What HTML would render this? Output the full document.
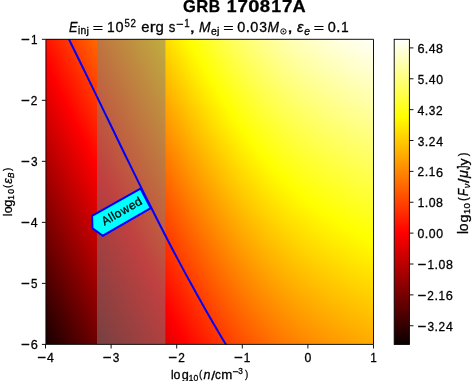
<!DOCTYPE html>
<html><head><meta charset="utf-8"><style>
html,body{margin:0;padding:0;background:#fff;width:473px;height:381px;overflow:hidden}
#c{position:relative;width:473px;height:381px;background:#fff;overflow:hidden}
svg{display:block;position:absolute;left:0;top:0;font-family:"Liberation Sans", sans-serif;will-change:transform}
text{stroke:#000;stroke-width:0.3px}
.s{position:absolute;top:39.3px;height:305.1px;width:1px;background-image:linear-gradient(to top,rgb(11,0,0) 600px,#f00 897.177px,#ff0 1207.275px,#fff 1414.007px);background-size:1px 2014.007px;background-repeat:no-repeat}
</style></head><body><div id="c"><i class="s" style="left:46px;background-position:0 -1092.543px"></i><i class="s" style="left:47px;background-position:0 -1090.474px"></i><i class="s" style="left:48px;background-position:0 -1088.405px"></i><i class="s" style="left:49px;background-position:0 -1086.336px"></i><i class="s" style="left:50px;background-position:0 -1084.267px"></i><i class="s" style="left:51px;background-position:0 -1082.199px"></i><i class="s" style="left:52px;background-position:0 -1080.131px"></i><i class="s" style="left:53px;background-position:0 -1078.063px"></i><i class="s" style="left:54px;background-position:0 -1075.995px"></i><i class="s" style="left:55px;background-position:0 -1073.927px"></i><i class="s" style="left:56px;background-position:0 -1071.86px"></i><i class="s" style="left:57px;background-position:0 -1069.792px"></i><i class="s" style="left:58px;background-position:0 -1067.725px"></i><i class="s" style="left:59px;background-position:0 -1065.658px"></i><i class="s" style="left:60px;background-position:0 -1063.591px"></i><i class="s" style="left:61px;background-position:0 -1061.525px"></i><i class="s" style="left:62px;background-position:0 -1059.459px"></i><i class="s" style="left:63px;background-position:0 -1057.393px"></i><i class="s" style="left:64px;background-position:0 -1055.327px"></i><i class="s" style="left:65px;background-position:0 -1053.261px"></i><i class="s" style="left:66px;background-position:0 -1051.196px"></i><i class="s" style="left:67px;background-position:0 -1049.13px"></i><i class="s" style="left:68px;background-position:0 -1047.065px"></i><i class="s" style="left:69px;background-position:0 -1045.001px"></i><i class="s" style="left:70px;background-position:0 -1042.936px"></i><i class="s" style="left:71px;background-position:0 -1040.872px"></i><i class="s" style="left:72px;background-position:0 -1038.808px"></i><i class="s" style="left:73px;background-position:0 -1036.745px"></i><i class="s" style="left:74px;background-position:0 -1034.682px"></i><i class="s" style="left:75px;background-position:0 -1032.619px"></i><i class="s" style="left:76px;background-position:0 -1030.556px"></i><i class="s" style="left:77px;background-position:0 -1028.494px"></i><i class="s" style="left:78px;background-position:0 -1026.432px"></i><i class="s" style="left:79px;background-position:0 -1024.37px"></i><i class="s" style="left:80px;background-position:0 -1022.309px"></i><i class="s" style="left:81px;background-position:0 -1020.248px"></i><i class="s" style="left:82px;background-position:0 -1018.187px"></i><i class="s" style="left:83px;background-position:0 -1016.127px"></i><i class="s" style="left:84px;background-position:0 -1014.067px"></i><i class="s" style="left:85px;background-position:0 -1012.008px"></i><i class="s" style="left:86px;background-position:0 -1009.949px"></i><i class="s" style="left:87px;background-position:0 -1007.89px"></i><i class="s" style="left:88px;background-position:0 -1005.832px"></i><i class="s" style="left:89px;background-position:0 -1003.774px"></i><i class="s" style="left:90px;background-position:0 -1001.717px"></i><i class="s" style="left:91px;background-position:0 -999.66px"></i><i class="s" style="left:92px;background-position:0 -997.604px"></i><i class="s" style="left:93px;background-position:0 -995.548px"></i><i class="s" style="left:94px;background-position:0 -993.492px"></i><i class="s" style="left:95px;background-position:0 -991.438px"></i><i class="s" style="left:96px;background-position:0 -989.383px"></i><i class="s" style="left:97px;background-position:0 -987.33px"></i><i class="s" style="left:98px;background-position:0 -985.276px"></i><i class="s" style="left:99px;background-position:0 -983.224px"></i><i class="s" style="left:100px;background-position:0 -981.172px"></i><i class="s" style="left:101px;background-position:0 -979.12px"></i><i class="s" style="left:102px;background-position:0 -977.069px"></i><i class="s" style="left:103px;background-position:0 -975.019px"></i><i class="s" style="left:104px;background-position:0 -972.97px"></i><i class="s" style="left:105px;background-position:0 -970.921px"></i><i class="s" style="left:106px;background-position:0 -968.873px"></i><i class="s" style="left:107px;background-position:0 -966.825px"></i><i class="s" style="left:108px;background-position:0 -964.779px"></i><i class="s" style="left:109px;background-position:0 -962.733px"></i><i class="s" style="left:110px;background-position:0 -960.688px"></i><i class="s" style="left:111px;background-position:0 -958.643px"></i><i class="s" style="left:112px;background-position:0 -956.6px"></i><i class="s" style="left:113px;background-position:0 -954.557px"></i><i class="s" style="left:114px;background-position:0 -952.515px"></i><i class="s" style="left:115px;background-position:0 -950.474px"></i><i class="s" style="left:116px;background-position:0 -948.434px"></i><i class="s" style="left:117px;background-position:0 -946.395px"></i><i class="s" style="left:118px;background-position:0 -944.356px"></i><i class="s" style="left:119px;background-position:0 -942.319px"></i><i class="s" style="left:120px;background-position:0 -940.283px"></i><i class="s" style="left:121px;background-position:0 -938.248px"></i><i class="s" style="left:122px;background-position:0 -936.213px"></i><i class="s" style="left:123px;background-position:0 -934.18px"></i><i class="s" style="left:124px;background-position:0 -932.148px"></i><i class="s" style="left:125px;background-position:0 -930.118px"></i><i class="s" style="left:126px;background-position:0 -928.088px"></i><i class="s" style="left:127px;background-position:0 -926.059px"></i><i class="s" style="left:128px;background-position:0 -924.032px"></i><i class="s" style="left:129px;background-position:0 -922.006px"></i><i class="s" style="left:130px;background-position:0 -919.981px"></i><i class="s" style="left:131px;background-position:0 -917.958px"></i><i class="s" style="left:132px;background-position:0 -915.936px"></i><i class="s" style="left:133px;background-position:0 -913.915px"></i><i class="s" style="left:134px;background-position:0 -911.896px"></i><i class="s" style="left:135px;background-position:0 -909.878px"></i><i class="s" style="left:136px;background-position:0 -907.862px"></i><i class="s" style="left:137px;background-position:0 -905.847px"></i><i class="s" style="left:138px;background-position:0 -903.834px"></i><i class="s" style="left:139px;background-position:0 -901.823px"></i><i class="s" style="left:140px;background-position:0 -899.813px"></i><i class="s" style="left:141px;background-position:0 -897.805px"></i><i class="s" style="left:142px;background-position:0 -895.799px"></i><i class="s" style="left:143px;background-position:0 -893.794px"></i><i class="s" style="left:144px;background-position:0 -891.791px"></i><i class="s" style="left:145px;background-position:0 -889.791px"></i><i class="s" style="left:146px;background-position:0 -887.792px"></i><i class="s" style="left:147px;background-position:0 -885.795px"></i><i class="s" style="left:148px;background-position:0 -883.8px"></i><i class="s" style="left:149px;background-position:0 -881.807px"></i><i class="s" style="left:150px;background-position:0 -879.816px"></i><i class="s" style="left:151px;background-position:0 -877.828px"></i><i class="s" style="left:152px;background-position:0 -875.842px"></i><i class="s" style="left:153px;background-position:0 -873.858px"></i><i class="s" style="left:154px;background-position:0 -871.876px"></i><i class="s" style="left:155px;background-position:0 -869.897px"></i><i class="s" style="left:156px;background-position:0 -867.92px"></i><i class="s" style="left:157px;background-position:0 -865.946px"></i><i class="s" style="left:158px;background-position:0 -863.975px"></i><i class="s" style="left:159px;background-position:0 -862.006px"></i><i class="s" style="left:160px;background-position:0 -860.04px"></i><i class="s" style="left:161px;background-position:0 -858.076px"></i><i class="s" style="left:162px;background-position:0 -856.116px"></i><i class="s" style="left:163px;background-position:0 -854.158px"></i><i class="s" style="left:164px;background-position:0 -852.203px"></i><i class="s" style="left:165px;background-position:0 -850.252px"></i><i class="s" style="left:166px;background-position:0 -848.303px"></i><i class="s" style="left:167px;background-position:0 -846.358px"></i><i class="s" style="left:168px;background-position:0 -844.416px"></i><i class="s" style="left:169px;background-position:0 -842.477px"></i><i class="s" style="left:170px;background-position:0 -840.542px"></i><i class="s" style="left:171px;background-position:0 -838.61px"></i><i class="s" style="left:172px;background-position:0 -836.682px"></i><i class="s" style="left:173px;background-position:0 -834.757px"></i><i class="s" style="left:174px;background-position:0 -832.837px"></i><i class="s" style="left:175px;background-position:0 -830.92px"></i><i class="s" style="left:176px;background-position:0 -829.007px"></i><i class="s" style="left:177px;background-position:0 -827.098px"></i><i class="s" style="left:178px;background-position:0 -825.193px"></i><i class="s" style="left:179px;background-position:0 -823.292px"></i><i class="s" style="left:180px;background-position:0 -821.395px"></i><i class="s" style="left:181px;background-position:0 -819.503px"></i><i class="s" style="left:182px;background-position:0 -817.616px"></i><i class="s" style="left:183px;background-position:0 -815.732px"></i><i class="s" style="left:184px;background-position:0 -813.854px"></i><i class="s" style="left:185px;background-position:0 -811.98px"></i><i class="s" style="left:186px;background-position:0 -810.111px"></i><i class="s" style="left:187px;background-position:0 -808.247px"></i><i class="s" style="left:188px;background-position:0 -806.388px"></i><i class="s" style="left:189px;background-position:0 -804.534px"></i><i class="s" style="left:190px;background-position:0 -802.686px"></i><i class="s" style="left:191px;background-position:0 -800.842px"></i><i class="s" style="left:192px;background-position:0 -799.005px"></i><i class="s" style="left:193px;background-position:0 -797.172px"></i><i class="s" style="left:194px;background-position:0 -795.346px"></i><i class="s" style="left:195px;background-position:0 -793.525px"></i><i class="s" style="left:196px;background-position:0 -791.71px"></i><i class="s" style="left:197px;background-position:0 -789.901px"></i><i class="s" style="left:198px;background-position:0 -788.098px"></i><i class="s" style="left:199px;background-position:0 -786.301px"></i><i class="s" style="left:200px;background-position:0 -784.511px"></i><i class="s" style="left:201px;background-position:0 -782.727px"></i><i class="s" style="left:202px;background-position:0 -780.949px"></i><i class="s" style="left:203px;background-position:0 -779.179px"></i><i class="s" style="left:204px;background-position:0 -777.415px"></i><i class="s" style="left:205px;background-position:0 -775.657px"></i><i class="s" style="left:206px;background-position:0 -773.907px"></i><i class="s" style="left:207px;background-position:0 -772.164px"></i><i class="s" style="left:208px;background-position:0 -770.429px"></i><i class="s" style="left:209px;background-position:0 -768.7px"></i><i class="s" style="left:210px;background-position:0 -766.979px"></i><i class="s" style="left:211px;background-position:0 -765.266px"></i><i class="s" style="left:212px;background-position:0 -763.56px"></i><i class="s" style="left:213px;background-position:0 -761.862px"></i><i class="s" style="left:214px;background-position:0 -760.172px"></i><i class="s" style="left:215px;background-position:0 -758.49px"></i><i class="s" style="left:216px;background-position:0 -756.816px"></i><i class="s" style="left:217px;background-position:0 -755.151px"></i><i class="s" style="left:218px;background-position:0 -753.494px"></i><i class="s" style="left:219px;background-position:0 -751.845px"></i><i class="s" style="left:220px;background-position:0 -750.205px"></i><i class="s" style="left:221px;background-position:0 -748.573px"></i><i class="s" style="left:222px;background-position:0 -746.95px"></i><i class="s" style="left:223px;background-position:0 -745.337px"></i><i class="s" style="left:224px;background-position:0 -743.732px"></i><i class="s" style="left:225px;background-position:0 -742.136px"></i><i class="s" style="left:226px;background-position:0 -740.55px"></i><i class="s" style="left:227px;background-position:0 -738.973px"></i><i class="s" style="left:228px;background-position:0 -737.405px"></i><i class="s" style="left:229px;background-position:0 -735.847px"></i><i class="s" style="left:230px;background-position:0 -734.298px"></i><i class="s" style="left:231px;background-position:0 -732.76px"></i><i class="s" style="left:232px;background-position:0 -731.23px"></i><i class="s" style="left:233px;background-position:0 -729.711px"></i><i class="s" style="left:234px;background-position:0 -728.202px"></i><i class="s" style="left:235px;background-position:0 -726.703px"></i><i class="s" style="left:236px;background-position:0 -725.214px"></i><i class="s" style="left:237px;background-position:0 -723.735px"></i><i class="s" style="left:238px;background-position:0 -722.266px"></i><i class="s" style="left:239px;background-position:0 -720.807px"></i><i class="s" style="left:240px;background-position:0 -719.36px"></i><i class="s" style="left:241px;background-position:0 -717.922px"></i><i class="s" style="left:242px;background-position:0 -716.495px"></i><i class="s" style="left:243px;background-position:0 -715.079px"></i><i class="s" style="left:244px;background-position:0 -713.673px"></i><i class="s" style="left:245px;background-position:0 -712.278px"></i><i class="s" style="left:246px;background-position:0 -710.893px"></i><i class="s" style="left:247px;background-position:0 -709.52px"></i><i class="s" style="left:248px;background-position:0 -708.157px"></i><i class="s" style="left:249px;background-position:0 -706.805px"></i><i class="s" style="left:250px;background-position:0 -705.463px"></i><i class="s" style="left:251px;background-position:0 -704.133px"></i><i class="s" style="left:252px;background-position:0 -702.814px"></i><i class="s" style="left:253px;background-position:0 -701.505px"></i><i class="s" style="left:254px;background-position:0 -700.208px"></i><i class="s" style="left:255px;background-position:0 -698.921px"></i><i class="s" style="left:256px;background-position:0 -697.646px"></i><i class="s" style="left:257px;background-position:0 -696.381px"></i><i class="s" style="left:258px;background-position:0 -695.128px"></i><i class="s" style="left:259px;background-position:0 -693.885px"></i><i class="s" style="left:260px;background-position:0 -692.653px"></i><i class="s" style="left:261px;background-position:0 -691.432px"></i><i class="s" style="left:262px;background-position:0 -690.222px"></i><i class="s" style="left:263px;background-position:0 -689.023px"></i><i class="s" style="left:264px;background-position:0 -687.835px"></i><i class="s" style="left:265px;background-position:0 -686.658px"></i><i class="s" style="left:266px;background-position:0 -685.492px"></i><i class="s" style="left:267px;background-position:0 -684.336px"></i><i class="s" style="left:268px;background-position:0 -683.191px"></i><i class="s" style="left:269px;background-position:0 -682.056px"></i><i class="s" style="left:270px;background-position:0 -680.933px"></i><i class="s" style="left:271px;background-position:0 -679.82px"></i><i class="s" style="left:272px;background-position:0 -678.717px"></i><i class="s" style="left:273px;background-position:0 -677.625px"></i><i class="s" style="left:274px;background-position:0 -676.543px"></i><i class="s" style="left:275px;background-position:0 -675.472px"></i><i class="s" style="left:276px;background-position:0 -674.41px"></i><i class="s" style="left:277px;background-position:0 -673.36px"></i><i class="s" style="left:278px;background-position:0 -672.319px"></i><i class="s" style="left:279px;background-position:0 -671.288px"></i><i class="s" style="left:280px;background-position:0 -670.267px"></i><i class="s" style="left:281px;background-position:0 -669.256px"></i><i class="s" style="left:282px;background-position:0 -668.255px"></i><i class="s" style="left:283px;background-position:0 -667.263px"></i><i class="s" style="left:284px;background-position:0 -666.281px"></i><i class="s" style="left:285px;background-position:0 -665.309px"></i><i class="s" style="left:286px;background-position:0 -664.346px"></i><i class="s" style="left:287px;background-position:0 -663.392px"></i><i class="s" style="left:288px;background-position:0 -662.448px"></i><i class="s" style="left:289px;background-position:0 -661.513px"></i><i class="s" style="left:290px;background-position:0 -660.586px"></i><i class="s" style="left:291px;background-position:0 -659.669px"></i><i class="s" style="left:292px;background-position:0 -658.76px"></i><i class="s" style="left:293px;background-position:0 -657.861px"></i><i class="s" style="left:294px;background-position:0 -656.969px"></i><i class="s" style="left:295px;background-position:0 -656.087px"></i><i class="s" style="left:296px;background-position:0 -655.212px"></i><i class="s" style="left:297px;background-position:0 -654.346px"></i><i class="s" style="left:298px;background-position:0 -653.488px"></i><i class="s" style="left:299px;background-position:0 -652.638px"></i><i class="s" style="left:300px;background-position:0 -651.796px"></i><i class="s" style="left:301px;background-position:0 -650.962px"></i><i class="s" style="left:302px;background-position:0 -650.135px"></i><i class="s" style="left:303px;background-position:0 -649.316px"></i><i class="s" style="left:304px;background-position:0 -648.505px"></i><i class="s" style="left:305px;background-position:0 -647.701px"></i><i class="s" style="left:306px;background-position:0 -646.904px"></i><i class="s" style="left:307px;background-position:0 -646.114px"></i><i class="s" style="left:308px;background-position:0 -645.331px"></i><i class="s" style="left:309px;background-position:0 -644.555px"></i><i class="s" style="left:310px;background-position:0 -643.786px"></i><i class="s" style="left:311px;background-position:0 -643.024px"></i><i class="s" style="left:312px;background-position:0 -642.268px"></i><i class="s" style="left:313px;background-position:0 -641.518px"></i><i class="s" style="left:314px;background-position:0 -640.775px"></i><i class="s" style="left:315px;background-position:0 -640.038px"></i><i class="s" style="left:316px;background-position:0 -639.308px"></i><i class="s" style="left:317px;background-position:0 -638.583px"></i><i class="s" style="left:318px;background-position:0 -637.864px"></i><i class="s" style="left:319px;background-position:0 -637.151px"></i><i class="s" style="left:320px;background-position:0 -636.443px"></i><i class="s" style="left:321px;background-position:0 -635.741px"></i><i class="s" style="left:322px;background-position:0 -635.045px"></i><i class="s" style="left:323px;background-position:0 -634.354px"></i><i class="s" style="left:324px;background-position:0 -633.668px"></i><i class="s" style="left:325px;background-position:0 -632.987px"></i><i class="s" style="left:326px;background-position:0 -632.311px"></i><i class="s" style="left:327px;background-position:0 -631.64px"></i><i class="s" style="left:328px;background-position:0 -630.974px"></i><i class="s" style="left:329px;background-position:0 -630.313px"></i><i class="s" style="left:330px;background-position:0 -629.657px"></i><i class="s" style="left:331px;background-position:0 -629.005px"></i><i class="s" style="left:332px;background-position:0 -628.357px"></i><i class="s" style="left:333px;background-position:0 -627.714px"></i><i class="s" style="left:334px;background-position:0 -627.075px"></i><i class="s" style="left:335px;background-position:0 -626.44px"></i><i class="s" style="left:336px;background-position:0 -625.81px"></i><i class="s" style="left:337px;background-position:0 -625.183px"></i><i class="s" style="left:338px;background-position:0 -624.56px"></i><i class="s" style="left:339px;background-position:0 -623.941px"></i><i class="s" style="left:340px;background-position:0 -623.326px"></i><i class="s" style="left:341px;background-position:0 -622.715px"></i><i class="s" style="left:342px;background-position:0 -622.107px"></i><i class="s" style="left:343px;background-position:0 -621.502px"></i><i class="s" style="left:344px;background-position:0 -620.901px"></i><i class="s" style="left:345px;background-position:0 -620.304px"></i><i class="s" style="left:346px;background-position:0 -619.71px"></i><i class="s" style="left:347px;background-position:0 -619.118px"></i><i class="s" style="left:348px;background-position:0 -618.53px"></i><i class="s" style="left:349px;background-position:0 -617.945px"></i><i class="s" style="left:350px;background-position:0 -617.364px"></i><i class="s" style="left:351px;background-position:0 -616.785px"></i><i class="s" style="left:352px;background-position:0 -616.208px"></i><i class="s" style="left:353px;background-position:0 -615.635px"></i><i class="s" style="left:354px;background-position:0 -615.064px"></i><i class="s" style="left:355px;background-position:0 -614.496px"></i><i class="s" style="left:356px;background-position:0 -613.931px"></i><i class="s" style="left:357px;background-position:0 -613.368px"></i><i class="s" style="left:358px;background-position:0 -612.808px"></i><i class="s" style="left:359px;background-position:0 -612.25px"></i><i class="s" style="left:360px;background-position:0 -611.694px"></i><i class="s" style="left:361px;background-position:0 -611.141px"></i><i class="s" style="left:362px;background-position:0 -610.589px"></i><i class="s" style="left:363px;background-position:0 -610.041px"></i><i class="s" style="left:364px;background-position:0 -609.494px"></i><i class="s" style="left:365px;background-position:0 -608.949px"></i><i class="s" style="left:366px;background-position:0 -608.406px"></i><i class="s" style="left:367px;background-position:0 -607.866px"></i><i class="s" style="left:368px;background-position:0 -607.327px"></i><i class="s" style="left:369px;background-position:0 -606.79px"></i><i class="s" style="left:370px;background-position:0 -606.255px"></i><i class="s" style="left:371px;background-position:0 -605.722px"></i><i class="s" style="left:372px;background-position:0 -605.191px"></i>
<svg width="473" height="381" viewBox="0 0 473 381">
<defs><linearGradient id="gc" x1="0" y1="1" x2="0" y2="0"><stop offset="0" stop-color="rgb(11,0,0)"/><stop offset="0.365079" stop-color="rgb(255,0,0)"/><stop offset="0.746032" stop-color="rgb(255,255,0)"/><stop offset="1" stop-color="rgb(255,255,255)"/></linearGradient>
<clipPath id="ax"><rect x="45.5" y="39.3" width="328" height="305.1"/></clipPath></defs>
<g>
<g clip-path="url(#ax)">
<rect x="97.0" y="39.3" width="68.4" height="305.1" fill="rgb(128,128,128)" fill-opacity="0.5"/>
<polyline points="67.41,36.30 71.36,44.28 75.30,52.25 79.22,60.23 83.12,68.21 87.01,76.18 90.88,84.16 94.75,92.14 98.61,100.12 102.47,108.09 106.33,116.07 110.18,124.05 114.04,132.02 117.90,140.00 121.77,147.98 125.65,155.95 129.54,163.93 133.45,171.91 137.37,179.88 141.31,187.86 145.27,195.84 149.26,203.82 153.27,211.79 157.31,219.77 161.38,227.75 165.48,235.72 169.62,243.70 173.79,251.68 178.01,259.65 182.27,267.63 186.57,275.61 190.91,283.58 195.31,291.56 199.76,299.54 204.26,307.52 208.82,315.49 213.44,323.47 218.11,331.45 222.85,339.42 227.66,347.40" fill="none" stroke="#0000ff" stroke-width="2.0"/>
<polygon points="92.02,215.77 140.49,188.58 150.67,208.01 102.86,235.71 92.48,228.27" fill="#00ffff" stroke="#0000ff" stroke-width="2.0"/>
<g transform="translate(121.35,211.19) rotate(-30.0) scale(0.976) translate(-22.386,4.254)"><text transform="matrix(0.955,0,0,1.004,0.068,0)" font-size="12.312">A</text><text transform="matrix(0.969,0,0,0.994,8.279,0)" font-size="12.312">l</text><text transform="matrix(0.969,0,0,0.994,11.521,0)" font-size="12.312">l</text><text transform="matrix(1.008,0,0,0.993,14.591,0.046)" font-size="12.312">o</text><text transform="matrix(0.958,0,0,0.981,22.115,0)" font-size="12.312">w</text><text transform="matrix(1.024,0,0,0.993,31.261,0.046)" font-size="12.312">e</text><text transform="matrix(1.03,0,0,0.999,38.443,0.045)" font-size="12.312">d</text></g>
</g>
<path d="M45.9 39.3H373.5V344.4H45.9Z" fill="none" stroke="#000" stroke-width="0.93"/>
<line x1="45.5" y1="344.4" x2="45.5" y2="348.48" stroke="#000" stroke-width="0.93"/>
<text transform="matrix(1.221,0,0,1.104,37.393,362.11)" font-size="12.312">−</text><text transform="matrix(0.999,0,0,1.004,46.964,361.9)" font-size="12.312">4</text>
<line x1="111.1" y1="344.4" x2="111.1" y2="348.48" stroke="#000" stroke-width="0.93"/>
<text transform="matrix(1.221,0,0,1.104,102.993,362.11)" font-size="12.312">−</text><text transform="matrix(0.96,0,0,1.013,112.716,361.944)" font-size="12.312">3</text>
<line x1="176.7" y1="344.4" x2="176.7" y2="348.48" stroke="#000" stroke-width="0.93"/>
<text transform="matrix(1.221,0,0,1.104,168.593,362.11)" font-size="12.312">−</text><text transform="matrix(0.963,0,0,1.008,178.135,361.9)" font-size="12.312">2</text>
<line x1="242.3" y1="344.4" x2="242.3" y2="348.48" stroke="#000" stroke-width="0.93"/>
<text transform="matrix(1.221,0,0,1.104,234.193,362.11)" font-size="12.312">−</text><text transform="matrix(0.954,0,0,1.004,243.864,361.9)" font-size="12.312">1</text>
<line x1="307.9" y1="344.4" x2="307.9" y2="348.48" stroke="#000" stroke-width="0.93"/>
<text transform="matrix(0.999,0,0,1.013,304.476,361.944)" font-size="12.312">0</text>
<line x1="373.5" y1="344.4" x2="373.5" y2="348.48" stroke="#000" stroke-width="0.93"/>
<text transform="matrix(0.954,0,0,1.004,370.175,361.9)" font-size="12.312">1</text>
<line x1="41.9" y1="344.4" x2="45.9" y2="344.4" stroke="#000" stroke-width="0.93"/>
<text transform="matrix(1.221,0,0,1.104,21.232,349.11)" font-size="12.312">−</text><text transform="matrix(1.034,0,0,1.013,30.683,348.944)" font-size="12.312">6</text>
<line x1="41.9" y1="283.38" x2="45.9" y2="283.38" stroke="#000" stroke-width="0.93"/>
<text transform="matrix(1.221,0,0,1.104,21.232,288.09)" font-size="12.312">−</text><text transform="matrix(0.943,0,0,1.01,30.951,287.924)" font-size="12.312">5</text>
<line x1="41.9" y1="222.36" x2="45.9" y2="222.36" stroke="#000" stroke-width="0.93"/>
<text transform="matrix(1.221,0,0,1.104,21.232,227.07)" font-size="12.312">−</text><text transform="matrix(0.999,0,0,1.004,30.803,226.86)" font-size="12.312">4</text>
<line x1="41.9" y1="161.34" x2="45.9" y2="161.34" stroke="#000" stroke-width="0.93"/>
<text transform="matrix(1.221,0,0,1.104,21.232,166.05)" font-size="12.312">−</text><text transform="matrix(0.96,0,0,1.013,30.954,165.884)" font-size="12.312">3</text>
<line x1="41.9" y1="100.32" x2="45.9" y2="100.32" stroke="#000" stroke-width="0.93"/>
<text transform="matrix(1.221,0,0,1.104,21.232,105.03)" font-size="12.312">−</text><text transform="matrix(0.963,0,0,1.008,30.774,104.82)" font-size="12.312">2</text>
<line x1="41.9" y1="39.3" x2="45.9" y2="39.3" stroke="#000" stroke-width="0.93"/>
<text transform="matrix(1.221,0,0,1.104,21.232,44.01)" font-size="12.312">−</text><text transform="matrix(0.954,0,0,1.004,30.902,43.8)" font-size="12.312">1</text>
<rect x="394.2" y="39.3" width="15.2" height="305.1" fill="url(#gc)"/>
<rect x="394.2" y="39.3" width="15.2" height="305.1" fill="none" stroke="#000" stroke-width="0.93"/>
<line x1="409.4" y1="47.9" x2="413.48" y2="47.9" stroke="#000" stroke-width="0.93"/>
<text transform="matrix(1.034,0,0,1.013,417.468,53.044)" font-size="12.312">6</text><text transform="matrix(1.026,0,0,1.099,424.82,53)" font-size="12.312">.</text><text transform="matrix(0.999,0,0,1.004,428.722,53)" font-size="12.312">4</text><text transform="matrix(1.01,0,0,1.013,436.111,53.044)" font-size="12.312">8</text>
<line x1="409.4" y1="78.772" x2="413.48" y2="78.772" stroke="#000" stroke-width="0.93"/>
<text transform="matrix(0.943,0,0,1.01,417.735,83.916)" font-size="12.312">5</text><text transform="matrix(1.026,0,0,1.099,424.82,83.872)" font-size="12.312">.</text><text transform="matrix(0.999,0,0,1.004,428.722,83.872)" font-size="12.312">4</text><text transform="matrix(0.999,0,0,1.013,436.148,83.915)" font-size="12.312">0</text>
<line x1="409.4" y1="109.644" x2="413.48" y2="109.644" stroke="#000" stroke-width="0.93"/>
<text transform="matrix(0.999,0,0,1.004,417.587,114.744)" font-size="12.312">4</text><text transform="matrix(1.026,0,0,1.099,424.82,114.744)" font-size="12.312">.</text><text transform="matrix(0.96,0,0,1.013,428.873,114.787)" font-size="12.312">3</text><text transform="matrix(0.963,0,0,1.008,436.118,114.744)" font-size="12.312">2</text>
<line x1="409.4" y1="140.515" x2="413.48" y2="140.515" stroke="#000" stroke-width="0.93"/>
<text transform="matrix(0.96,0,0,1.013,417.739,145.659)" font-size="12.312">3</text><text transform="matrix(1.026,0,0,1.099,424.82,145.615)" font-size="12.312">.</text><text transform="matrix(0.963,0,0,1.008,428.693,145.615)" font-size="12.312">2</text><text transform="matrix(0.999,0,0,1.004,436.147,145.615)" font-size="12.312">4</text>
<line x1="409.4" y1="171.387" x2="413.48" y2="171.387" stroke="#000" stroke-width="0.93"/>
<text transform="matrix(0.963,0,0,1.008,417.558,176.487)" font-size="12.312">2</text><text transform="matrix(1.026,0,0,1.099,424.82,176.487)" font-size="12.312">.</text><text transform="matrix(0.954,0,0,1.004,428.822,176.487)" font-size="12.312">1</text><text transform="matrix(1.034,0,0,1.013,436.027,176.531)" font-size="12.312">6</text>
<line x1="409.4" y1="202.259" x2="413.48" y2="202.259" stroke="#000" stroke-width="0.93"/>
<text transform="matrix(0.954,0,0,1.004,417.687,207.359)" font-size="12.312">1</text><text transform="matrix(1.026,0,0,1.099,424.82,207.359)" font-size="12.312">.</text><text transform="matrix(0.999,0,0,1.013,428.723,207.403)" font-size="12.312">0</text><text transform="matrix(1.01,0,0,1.013,436.111,207.403)" font-size="12.312">8</text>
<line x1="409.4" y1="233.131" x2="413.48" y2="233.131" stroke="#000" stroke-width="0.93"/>
<text transform="matrix(0.999,0,0,1.013,417.589,238.274)" font-size="12.312">0</text><text transform="matrix(1.026,0,0,1.099,424.82,238.231)" font-size="12.312">.</text><text transform="matrix(0.999,0,0,1.013,428.723,238.274)" font-size="12.312">0</text><text transform="matrix(0.999,0,0,1.013,436.148,238.274)" font-size="12.312">0</text>
<line x1="409.4" y1="264.003" x2="413.48" y2="264.003" stroke="#000" stroke-width="0.93"/>
<text transform="matrix(1.221,0,0,1.104,417.795,269.313)" font-size="12.312">−</text><text transform="matrix(0.954,0,0,1.004,427.465,269.103)" font-size="12.312">1</text><text transform="matrix(1.026,0,0,1.099,434.598,269.103)" font-size="12.312">.</text><text transform="matrix(0.999,0,0,1.013,438.501,269.146)" font-size="12.312">0</text><text transform="matrix(1.01,0,0,1.013,445.889,269.146)" font-size="12.312">8</text>
<line x1="409.4" y1="294.874" x2="413.48" y2="294.874" stroke="#000" stroke-width="0.93"/>
<text transform="matrix(1.221,0,0,1.104,417.795,300.185)" font-size="12.312">−</text><text transform="matrix(0.963,0,0,1.008,427.337,299.974)" font-size="12.312">2</text><text transform="matrix(1.026,0,0,1.099,434.598,299.974)" font-size="12.312">.</text><text transform="matrix(0.954,0,0,1.004,438.6,299.974)" font-size="12.312">1</text><text transform="matrix(1.034,0,0,1.013,445.806,300.018)" font-size="12.312">6</text>
<line x1="409.4" y1="325.746" x2="413.48" y2="325.746" stroke="#000" stroke-width="0.93"/>
<text transform="matrix(1.221,0,0,1.104,417.795,331.056)" font-size="12.312">−</text><text transform="matrix(0.96,0,0,1.013,427.517,330.89)" font-size="12.312">3</text><text transform="matrix(1.026,0,0,1.099,434.598,330.846)" font-size="12.312">.</text><text transform="matrix(0.963,0,0,1.008,438.471,330.846)" font-size="12.312">2</text><text transform="matrix(0.999,0,0,1.004,445.925,330.846)" font-size="12.312">4</text>
<text transform="matrix(0.979,0,0,1.013,182.922,11.86)" font-size="16.877" font-weight="bold">G</text><text transform="matrix(0.983,0,0,1.004,196.292,11.8)" font-size="16.877" font-weight="bold">R</text><text transform="matrix(0.933,0,0,1.004,208.667,11.8)" font-size="16.877" font-weight="bold">B</text><text transform="matrix(1.047,0,0,1.004,226.705,11.8)" font-size="16.877" font-weight="bold">1</text><text transform="matrix(1.11,0,0,1.004,237.41,11.8)" font-size="16.877" font-weight="bold">7</text><text transform="matrix(1.196,0,0,1.013,248.242,11.86)" font-size="16.877" font-weight="bold">0</text><text transform="matrix(1.1,0,0,1.013,259.793,11.86)" font-size="16.877" font-weight="bold">8</text><text transform="matrix(1.047,0,0,1.004,271.227,11.8)" font-size="16.877" font-weight="bold">1</text><text transform="matrix(1.11,0,0,1.004,281.932,11.8)" font-size="16.877" font-weight="bold">7</text><text transform="matrix(1.08,0,0,1.004,292.422,11.8)" font-size="16.877" font-weight="bold">A</text>
<text transform="matrix(0.885,0,0,1.004,69.006,32.2)" font-size="14.478" font-style="italic">E</text><text transform="matrix(0.969,0,0,0.994,77.982,34.48)" font-size="10.135">i</text><text transform="matrix(1.022,0,0,0.987,80.597,34.48)" font-size="10.135">n</text><text transform="matrix(1.069,0,0,0.984,86.614,34.408)" font-size="10.135">j</text><text transform="matrix(1.221,0,0,0.83,92.855,31.86)" font-size="14.478">=</text><text transform="matrix(0.954,0,0,1.004,106.944,32.2)" font-size="14.478">1</text><text transform="matrix(0.999,0,0,1.013,115.591,32.251)" font-size="14.478">0</text><text transform="matrix(0.943,0,0,1.01,124.505,26.916)" font-size="10.135">5</text><text transform="matrix(0.963,0,0,1.008,130.494,26.88)" font-size="10.135">2</text><text transform="matrix(1.024,0,0,0.993,141.3,32.254)" font-size="14.478">e</text><text transform="matrix(1.214,0,0,0.987,149.725,32.2)" font-size="14.478">r</text><text transform="matrix(1.03,0,0,0.978,155.44,32.115)" font-size="14.478">g</text><text transform="matrix(0.909,0,0,0.996,168.807,32.253)" font-size="14.478">s</text><text transform="matrix(1.221,0,0,1.104,176.146,27.588)" font-size="10.135">−</text><text transform="matrix(0.954,0,0,1.004,184.135,26.88)" font-size="10.135">1</text><text transform="matrix(1.382,0,0,0.97,189.592,31.999)" font-size="14.478">,</text><text transform="matrix(0.956,0,0,1.004,199.03,32.2)" font-size="14.478" font-style="italic">M</text><text transform="matrix(1.024,0,0,0.993,211.059,34.518)" font-size="10.135">e</text><text transform="matrix(1.069,0,0,0.984,216.993,34.408)" font-size="10.135">j</text><text transform="matrix(1.221,0,0,0.83,223.234,31.86)" font-size="14.478">=</text><text transform="matrix(0.999,0,0,1.013,237.207,32.251)" font-size="14.478">0</text><text transform="matrix(1.026,0,0,1.099,245.742,32.2)" font-size="14.478">.</text><text transform="matrix(0.999,0,0,1.013,250.348,32.251)" font-size="14.478">0</text><text transform="matrix(0.96,0,0,1.013,259.287,32.251)" font-size="14.478">3</text><text transform="matrix(0.956,0,0,1.004,267.476,32.2)" font-size="14.478" font-style="italic">M</text><circle cx="283.441" cy="31.462" r="2.672" fill="none" stroke="#000" stroke-width="0.95"/><circle cx="283.441" cy="31.462" r="0.85" fill="#000"/><text transform="matrix(1.382,0,0,0.97,287.137,31.999)" font-size="14.478">,</text><text transform="matrix(1.017,0,0,0.995,296.923,32.254)" font-size="14.478" font-style="italic">ε</text><text transform="matrix(1.025,0,0,0.993,304.167,34.518)" font-size="10.135" font-style="italic">e</text><text transform="matrix(1.221,0,0,0.83,313.661,31.86)" font-size="14.478">=</text><text transform="matrix(0.999,0,0,1.013,327.634,32.251)" font-size="14.478">0</text><text transform="matrix(1.026,0,0,1.099,336.169,32.2)" font-size="14.478">.</text><text transform="matrix(0.954,0,0,1.004,340.89,32.2)" font-size="14.478">1</text>
<text transform="matrix(0.969,0,0,0.994,171.072,379)" font-size="12.308">l</text><text transform="matrix(1.008,0,0,0.993,173.601,379.046)" font-size="12.308">o</text><text transform="matrix(1.03,0,0,0.978,181.816,378.928)" font-size="12.308">g</text><text transform="matrix(0.954,0,0,1.004,188.851,380.969)" font-size="8.616">1</text><text transform="matrix(0.999,0,0,1.013,193.506,380.999)" font-size="8.616">0</text><text transform="matrix(0.801,0,0,0.906,198.881,378.229)" font-size="12.308">(</text><text transform="matrix(1.018,0,0,0.987,203.546,379)" font-size="12.308" font-style="italic">n</text><text transform="matrix(1.149,0,0,1.061,211.185,379.955)" font-size="12.308">/</text><text transform="matrix(0.951,0,0,0.993,215.029,379.046)" font-size="12.308">c</text><text transform="matrix(1.08,0,0,0.987,221.31,379)" font-size="12.308">m</text><text transform="matrix(1.221,0,0,1.104,232.375,375.008)" font-size="8.616">−</text><text transform="matrix(0.96,0,0,1.013,238.325,374.437)" font-size="8.616">3</text><text transform="matrix(0.801,0,0,0.906,245.035,378.229)" font-size="12.308">)</text>
<g transform="translate(12.2,215.0) rotate(-90)"><text transform="matrix(0.969,0,0,0.994,-1.328,0)" font-size="12.308">l</text><text transform="matrix(1.008,0,0,0.993,1.651,0.046)" font-size="12.308">o</text><text transform="matrix(1.03,0,0,0.978,8.216,-0.072)" font-size="12.308">g</text><text transform="matrix(0.954,0,0,1.004,15.201,1.969)" font-size="8.616">1</text><text transform="matrix(0.999,0,0,1.013,21.206,1.999)" font-size="8.616">0</text><text transform="matrix(0.801,0,0,0.906,26.881,-0.771)" font-size="12.308">(</text><text transform="matrix(1.017,0,0,0.995,31.272,0.046)" font-size="12.308" font-style="italic">ε</text><text transform="matrix(0.942,0,0,1.004,37.108,1.969)" font-size="8.616" font-style="italic">B</text><text transform="matrix(0.801,0,0,0.906,43.935,-0.771)" font-size="12.308">)</text></g>
<g transform="translate(467.6,232.5) rotate(-90)"><text transform="matrix(0.969,0,0,0.994,-1.5,0)" font-size="13.908">l</text><text transform="matrix(1.008,0,0,0.993,1.203,0.052)" font-size="13.908">o</text><text transform="matrix(1.03,0,0,0.978,10.027,-0.082)" font-size="13.908">g</text><text transform="matrix(0.954,0,0,1.004,18.389,2.225)" font-size="9.736">1</text><text transform="matrix(0.999,0,0,1.013,24.095,2.259)" font-size="9.736">0</text><text transform="matrix(0.801,0,0,0.906,31.582,-0.871)" font-size="13.908">(</text><text transform="matrix(0.847,0,0,1.004,36.446,0)" font-size="13.908" font-style="italic">F</text><text transform="matrix(0.937,0,0,0.981,44.328,2.225)" font-size="9.736" font-style="italic">ν</text><text transform="matrix(1.149,0,0,1.061,49.479,1.079)" font-size="13.908">/</text><text transform="matrix(1.037,0,0,0.993,54.615,0.091)" font-size="13.908" font-style="italic">μ</text><text transform="matrix(0.574,0,0,1.262,62.737,2.468)" font-size="13.908">J</text><text transform="matrix(1.018,0,0,0.972,66.957,-0.064)" font-size="13.908">y</text><text transform="matrix(0.801,0,0,0.906,76.157,-0.871)" font-size="13.908">)</text></g>
</g>
</svg></div>
</body></html>
